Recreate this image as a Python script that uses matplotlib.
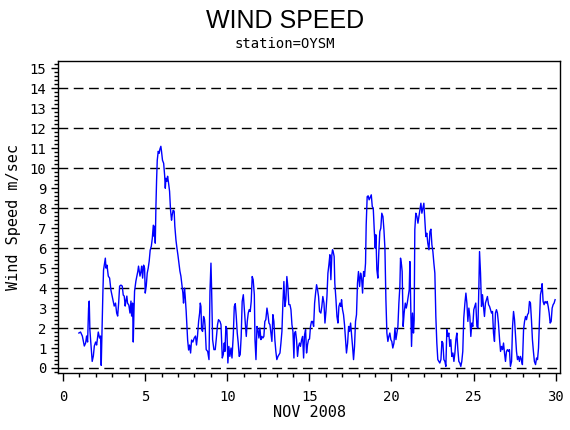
import matplotlib
matplotlib.use("Agg")
import matplotlib.pyplot as plt
from matplotlib.ticker import MultipleLocator

# wind speed readings (day of month, m/sec)
days = [
    0.97, 1.07, 1.18, 1.30, 1.38, 1.44, 1.50, 1.56, 1.60, 1.64, 1.70, 1.78, 1.85, 1.91, 1.99,
    2.05, 2.15, 2.23, 2.29, 2.33, 2.37, 2.43, 2.47, 2.58, 2.62, 2.68, 2.76, 2.84, 2.92, 3.02,
    3.12, 3.20, 3.27, 3.33, 3.39, 3.45, 3.53, 3.61, 3.67, 3.73, 3.79, 3.83, 3.89, 3.93, 4.01,
    4.08, 4.14, 4.18, 4.24, 4.28, 4.32, 4.36, 4.44, 4.50, 4.56, 4.60, 4.69, 4.75, 4.79, 4.85,
    4.91, 4.97, 5.01, 5.07, 5.13, 5.19, 5.25, 5.31, 5.38, 5.44, 5.50, 5.54, 5.58, 5.62, 5.66,
    5.70, 5.74, 5.80, 5.86, 5.90, 5.96, 6.00, 6.06, 6.13, 6.19, 6.23, 6.27, 6.33, 6.37, 6.43,
    6.49, 6.55, 6.61, 6.65, 6.71, 6.77, 6.81, 6.88, 6.94, 7.00, 7.06, 7.12, 7.18, 7.24, 7.30,
    7.34, 7.40, 7.44, 7.50, 7.55, 7.59, 7.65, 7.71, 7.77, 7.83, 7.91, 7.99, 8.07, 8.13, 8.19,
    8.26, 8.32,
    8.36, 8.40, 8.44, 8.50, 8.56, 8.62, 8.66, 8.72, 8.81, 8.89, 8.95, 9.01, 9.05, 9.11, 9.19,
    9.27, 9.33, 9.41, 9.47, 9.56, 9.62, 9.70, 9.76, 9.82, 9.86, 9.92, 9.98, 10.04, 10.10, 10.16,
    10.23, 10.29, 10.37, 10.43, 10.49, 10.55, 10.61, 10.67, 10.73, 10.79, 10.85, 10.91, 10.98,
    11.04, 11.10, 11.16, 11.22, 11.28, 11.34, 11.40, 11.46, 11.52, 11.58, 11.65, 11.69, 11.75,
    11.81, 11.87, 11.93, 11.99, 12.05, 12.11, 12.17, 12.23, 12.29, 12.35, 12.42, 12.48, 12.54,
    12.60, 12.66, 12.72, 12.78, 12.84, 12.90, 12.96, 13.02, 13.09, 13.15, 13.21, 13.27, 13.33,
    13.39, 13.45, 13.51, 13.57, 13.63, 13.69, 13.75, 13.82, 13.88, 13.94, 14.00, 14.06, 14.10,
    14.16, 14.22, 14.28, 14.34, 14.40, 14.46, 14.53, 14.59, 14.65, 14.71, 14.77, 14.83, 14.89,
    14.95, 15.01, 15.07, 15.13, 15.19, 15.26, 15.32, 15.38, 15.44, 15.50, 15.56, 15.62,
    15.70, 15.76, 15.82, 15.89, 15.95, 16.01, 16.07, 16.13, 16.19, 16.25, 16.31, 16.37, 16.41,
    16.45, 16.51, 16.55, 16.62, 16.68, 16.74, 16.80, 16.86, 16.92, 16.96, 17.02, 17.08, 17.14,
    17.20, 17.26, 17.33, 17.39, 17.45, 17.51, 17.57, 17.63, 17.69, 17.75, 17.81, 17.87, 17.93,
    17.99, 18.06, 18.12, 18.18, 18.24, 18.30, 18.36, 18.42, 18.46, 18.52, 18.58, 18.64, 18.71,
    18.77, 18.83, 18.89, 18.95, 19.01, 19.05, 19.11, 19.17, 19.23, 19.29, 19.35, 19.41, 19.48,
    19.54, 19.60, 19.66, 19.72, 19.78, 19.84, 19.90, 19.96, 20.02, 20.08, 20.15, 20.21, 20.27,
    20.33, 20.39, 20.45, 20.51, 20.55, 20.61, 20.65, 20.71, 20.77, 20.84, 20.90, 20.96, 21.02,
    21.08, 21.12, 21.18, 21.22, 21.28, 21.34, 21.38, 21.42, 21.48, 21.55, 21.61, 21.67, 21.73,
    21.79, 21.85, 21.91, 21.97, 22.03, 22.09, 22.15, 22.21, 22.28, 22.34, 22.40, 22.46, 22.52,
    22.58, 22.64,
    22.70, 22.76, 22.82, 22.88, 22.94, 23.01, 23.07, 23.13, 23.19, 23.25, 23.31, 23.37, 23.43,
    23.49, 23.55, 23.61, 23.67, 23.74, 23.80, 23.86, 23.92, 23.98, 24.04, 24.10, 24.16, 24.22,
    24.28, 24.34, 24.40, 24.47, 24.53, 24.59, 24.65, 24.71, 24.77, 24.83, 24.89, 24.95, 25.01,
    25.07, 25.13, 25.20, 25.26, 25.32, 25.36, 25.42, 25.48, 25.54, 25.60, 25.66, 25.72, 25.78,
    25.84, 25.91, 25.97, 26.03, 26.09, 26.15, 26.21, 26.27, 26.33, 26.39, 26.45, 26.51, 26.58,
    26.64, 26.70, 26.76, 26.82, 26.88, 26.94, 27.00, 27.06, 27.12, 27.18, 27.24, 27.31, 27.37,
    27.43, 27.49, 27.55, 27.61, 27.67, 27.73, 27.79, 27.85, 27.91, 27.97, 28.04, 28.10, 28.16,
    28.22, 28.28, 28.34, 28.40, 28.46, 28.52, 28.58, 28.64, 28.70, 28.77, 28.83, 28.89, 28.95,
    29.01, 29.07, 29.13, 29.17, 29.23, 29.29, 29.35, 29.42, 29.48, 29.54, 29.60, 29.66, 29.72,
    29.78, 29.84, 29.90, 29.96,
]
speed = [
    1.75, 1.80, 1.60, 1.10, 1.25, 1.60, 1.30, 3.00, 3.35, 1.90, 1.25, 0.33, 0.60, 1.10, 1.30,
    1.15, 1.80, 1.50, 1.60, 0.13, 1.60, 3.75, 4.90, 5.50, 5.00, 5.15, 4.60, 4.50, 3.90, 3.50,
    3.10, 3.25, 2.75, 2.60, 3.25, 4.10, 4.15, 4.10, 3.65, 3.60, 3.10, 3.35, 3.60, 3.25, 3.15,
    2.75, 3.35, 2.60, 3.25, 1.30, 2.75, 3.85, 4.35, 4.60, 4.85, 5.10, 4.60, 4.85, 5.10, 4.50,
    5.15, 5.00, 3.75, 4.10, 4.75, 5.00, 5.35, 5.90, 6.10, 6.50, 7.15, 6.60, 7.10, 6.25, 8.10,
    9.40, 10.40, 10.85, 10.75, 10.95, 11.10, 10.85, 10.40, 10.25, 9.65, 9.00, 9.50, 9.35, 9.60, 9.25,
    8.85, 7.90, 7.40, 7.65, 7.90, 7.85, 7.10, 6.40, 6.00, 5.65, 5.25, 4.85, 4.60, 4.15, 3.75,
    3.25, 4.00, 3.60, 2.85, 2.00, 1.40, 0.90, 1.15, 0.75, 1.40, 1.30, 1.50, 1.60, 1.15, 1.60,
    2.35, 2.75,
    3.25, 3.08, 1.92, 1.83, 2.58, 2.42, 2.00, 0.92, 0.83, 0.42, 3.83, 5.25, 3.92, 1.42, 0.92,
    0.92, 1.42, 2.17, 2.42, 2.33, 2.17, 0.50, 0.67, 1.25, 0.83, 2.08, 1.92, 0.25, 1.08, 0.58,
    1.00, 0.50, 1.67, 3.08, 3.22, 2.58, 1.75, 1.25, 0.58, 0.67, 1.58, 3.33, 3.67,
    2.92, 2.25, 1.58, 2.33, 2.75, 2.92, 2.83, 3.33, 4.58, 4.42, 3.67, 1.42, 0.42,
    2.08, 1.92, 1.50, 2.00, 1.42, 1.58, 1.50, 1.58, 2.33, 2.42, 3.00, 2.67, 2.25,
    2.17, 1.75, 1.33, 2.67, 2.33, 1.42, 0.83, 0.42, 0.58, 0.67, 0.75, 1.25, 1.83,
    3.25, 4.33, 3.08, 3.42, 4.58, 4.08, 3.17, 3.17, 2.92, 2.17, 1.83, 0.50, 1.75,
    1.83, 1.42, 0.58, 1.08, 1.25, 1.08, 1.42, 1.58, 0.50, 1.67, 1.92, 0.75, 1.17,
    1.42, 1.45, 2.08, 2.33, 2.33, 2.08, 3.25, 3.75, 4.17, 3.92, 3.58, 2.83,
    2.75, 3.08, 3.58, 3.25, 2.25, 2.83, 3.58, 4.75, 5.17, 5.67, 4.42, 5.67, 5.92,
    5.83, 5.58, 4.25, 3.42, 2.58, 2.25, 3.08, 3.25, 3.08, 3.42, 2.92, 2.67, 2.17,
    1.42, 0.75, 1.25, 2.08, 1.83, 2.25, 1.67, 1.08, 0.42, 1.08, 2.33, 2.67, 4.25,
    4.83, 4.08, 4.75, 4.50, 3.75, 4.83, 4.58, 5.25, 7.17, 8.58, 8.62, 8.42, 8.55,
    8.67, 8.08, 8.00, 6.92, 6.00, 6.67, 4.92, 4.50, 5.83, 6.83, 7.00, 7.75, 7.58,
    6.92, 6.00, 3.42, 1.75, 1.33, 1.58, 1.75, 1.42, 1.33, 1.00, 1.25, 2.00, 1.42,
    1.75, 2.08, 3.25, 4.08, 5.50, 5.17, 4.83, 2.08, 2.75, 3.25, 3.00, 3.25, 3.58,
    3.92, 5.33, 2.92, 1.08, 2.75, 1.75, 2.42, 6.92, 7.75, 7.58, 7.25, 7.58, 7.92,
    8.25, 7.75, 8.00, 8.25, 7.42, 6.58, 6.75, 6.25, 5.92, 6.83, 6.95, 6.17, 5.83,
    5.25, 4.75,
    2.58, 1.25, 0.42, 0.33, 0.25, 0.42, 1.33, 1.25, 0.42, 0.33, 0.08, 1.92, 1.58,
    1.75, 1.08, 1.42, 0.58, 0.75, 0.33, 0.75, 1.42, 1.75, 0.92, 0.33, 0.25, 0.08,
    0.33, 0.83, 2.50, 3.25, 3.75, 3.25, 2.33, 3.00, 2.58, 1.58, 2.25, 2.08, 2.92,
    3.08, 3.25, 2.08, 2.00, 4.08, 5.83, 4.75, 3.08, 3.67, 3.08, 2.58, 3.25, 3.42,
    3.58, 3.17, 3.08, 2.92, 2.75, 2.83, 1.75, 1.33, 2.75, 2.92, 2.75, 2.25, 1.42,
    0.83, 1.08, 0.92, 1.25, 0.75, 0.33, 0.83, 0.92, 0.83, 0.92, 0.08, 0.33, 2.08,
    2.83, 2.42, 1.58, 0.83, 0.42, 0.58, 0.33, 0.58, 0.42, 0.17, 1.92, 2.33, 2.58,
    2.42, 2.67, 2.75, 3.33, 3.25, 2.42, 1.42, 0.83, 0.33, 0.17, 0.50, 0.42, 1.00,
    2.42, 3.67, 3.92, 4.22, 3.33, 3.17, 3.33, 3.25, 3.33, 3.08, 2.75, 2.25, 2.33,
    3.00, 3.17, 3.25, 3.42,
]

grid_levels = [0, 2, 4, 6, 8, 10, 12, 14]
x_ticks = [0, 5, 10, 15, 20, 25, 30]
y_ticks = list(range(0, 16))

mono = ["DejaVu Sans Mono", "DejaVu Sans"]
plt.rcParams["font.family"] = mono

fig = plt.figure(figsize=(5.7, 4.3), dpi=100)
ax = fig.add_axes([0.1018, 0.1326, 0.8807, 0.7255])

for lev in grid_levels:
    ax.axhline(lev, color="black", lw=1.0, ls=(0, (7, 4)), zorder=1)
ax.plot(days, speed, color="#0000ff", lw=1.0, zorder=2)

ax.set_xlim(-0.3, 30.26)
ax.set_ylim(-0.25, 15.37)
ax.set_xticks(x_ticks)
ax.set_yticks(y_ticks)
ax.xaxis.set_minor_locator(MultipleLocator(1))
ax.yaxis.set_minor_locator(MultipleLocator(0.2))
ax.tick_params(axis="both", which="major", direction="out", length=5, width=1,
               labelsize=10, colors="black")
ax.tick_params(axis="both", which="minor", direction="out", length=3, width=1)
ax.tick_params(axis="x", which="major", length=6, pad=6)
for s in ax.spines.values():
    s.set_linewidth(1)

ax.set_xlabel("NOV 2008", fontsize=11, labelpad=1)
ax.set_ylabel("Wind Speed m/sec", fontsize=11, labelpad=6)

fig.text(0.5, 0.952, "WIND SPEED", ha="center", va="center", fontsize=18,
         family=["Liberation Sans", "DejaVu Sans"])
fig.text(0.5, 0.898, "station=OYSM", ha="center", va="center", fontsize=10)

fig.savefig("out.png", dpi=100)
